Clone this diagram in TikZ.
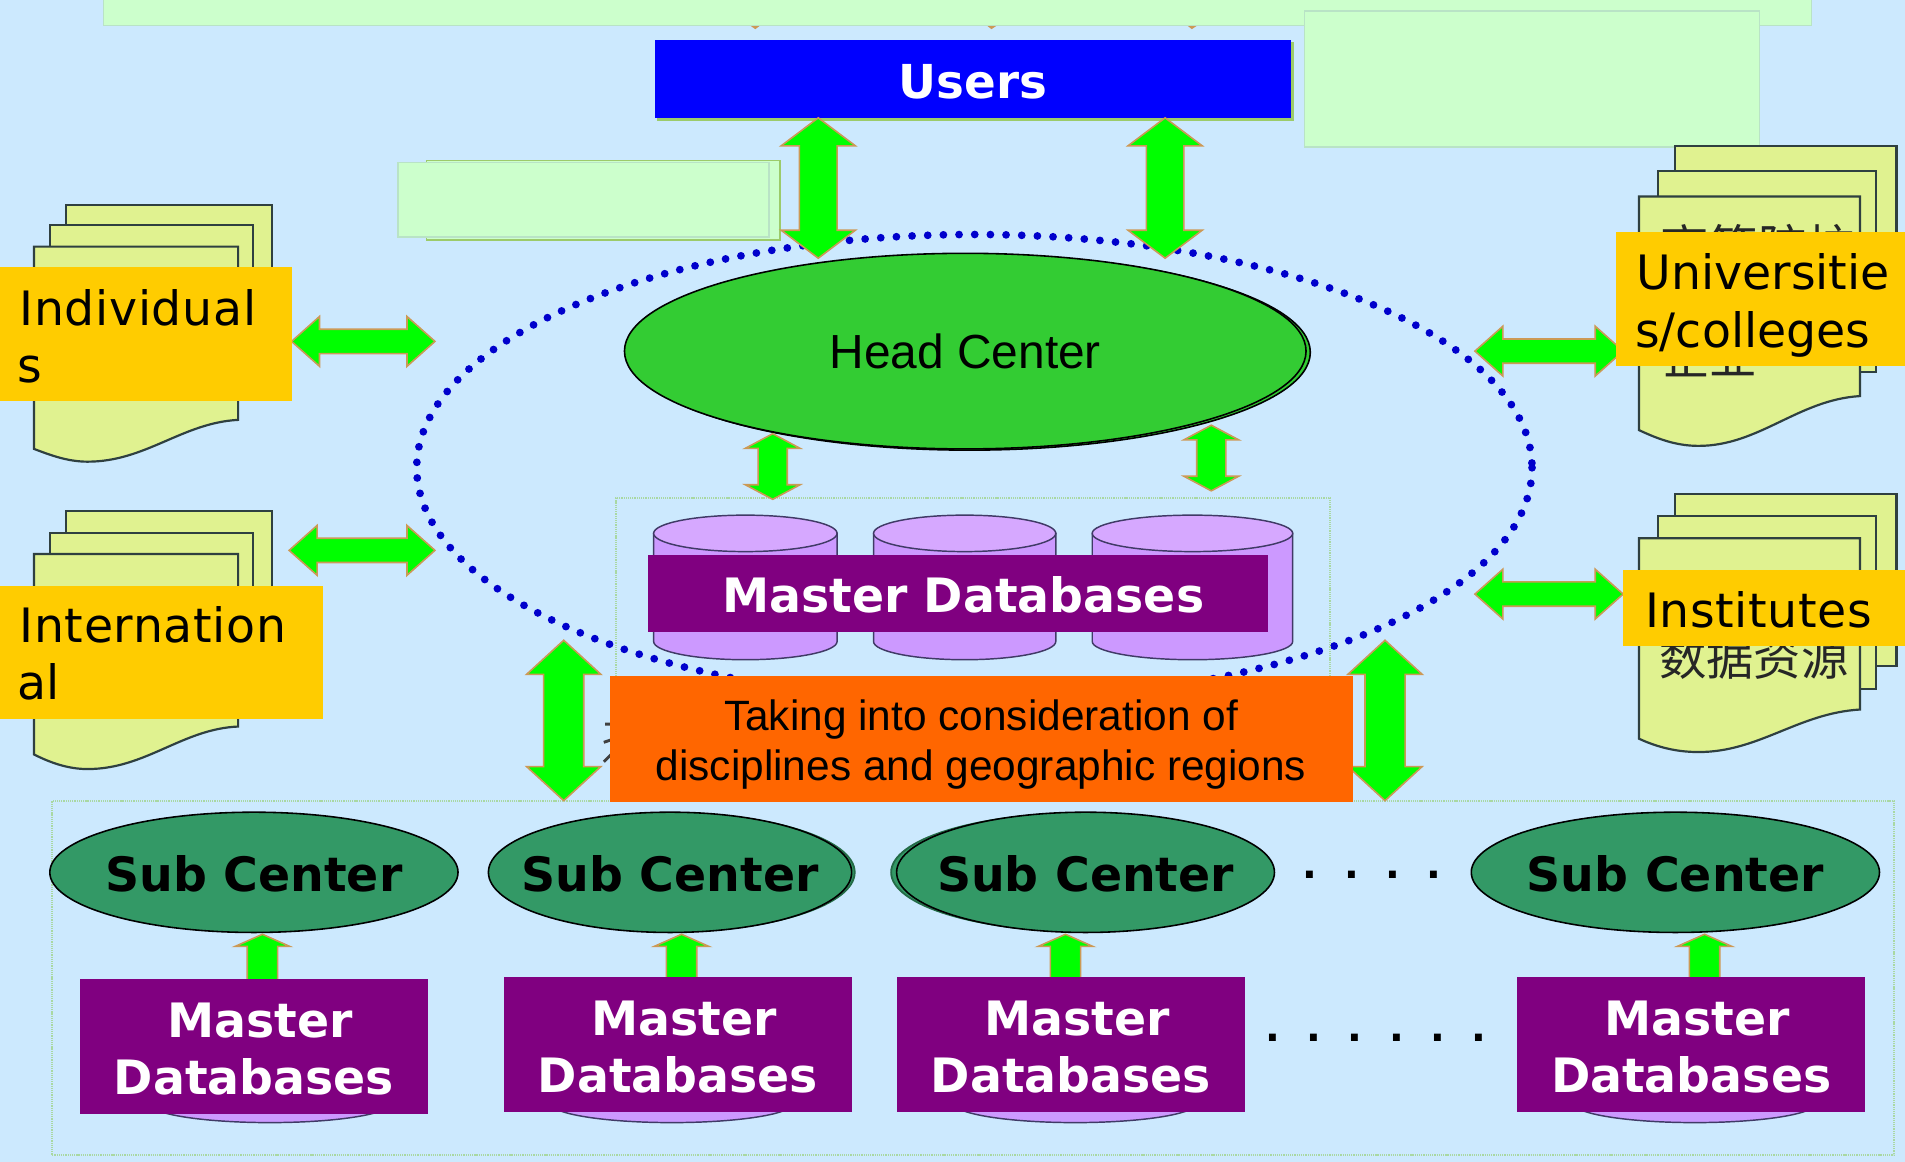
\documentclass[tikz,border=0pt]{standalone}
\usepackage{fontspec}
\usetikzlibrary{calc,shapes.geometric}
\setmainfont{Liberation Sans}
\newfontfamily\dvsans{DejaVu Sans}
\newfontfamily\dvspaced[LetterSpace=1.4]{DejaVu Sans}
\newfontfamily\cjkf{Noto Sans CJK SC}
\definecolor{bgblue}{HTML}{CCE9FE}
\definecolor{palegreen}{HTML}{CCFFCC}
\definecolor{paleedge}{HTML}{B9E3C6}
\definecolor{oliveedge}{HTML}{9CCB6A}
\definecolor{framegreen}{HTML}{A9D8A2}
\definecolor{sheetfill}{HTML}{E0F290}
\definecolor{sheetline}{HTML}{2F4040}
\definecolor{arrowgreen}{HTML}{00FF00}
\definecolor{arrowedge}{HTML}{CC9955}
\definecolor{headgreen}{HTML}{33CC33}
\definecolor{subgreen}{HTML}{339966}
\definecolor{boxyellow}{HTML}{FFCC00}
\definecolor{boxorange}{HTML}{FF6600}
\definecolor{boxpurple}{HTML}{800080}
\definecolor{cylfill}{HTML}{CC99FF}
\definecolor{cyltop}{HTML}{D6A8FF}
\definecolor{cylline}{HTML}{403A66}
\definecolor{dotblue}{HTML}{0000CC}
\tikzset{
  paleplate/.style={fill=palegreen,draw=paleedge,line width=1pt},
  shadeplate/.style={fill=palegreen,draw=oliveedge,line width=1.2pt},
  fineframe/.style={draw=framegreen,line width=1.6pt,dash pattern=on 1pt off 0.8pt},
  sheet/.style={fill=sheetfill,draw=sheetline,line width=1.8pt},
  blockarrow/.style={fill=arrowgreen,draw=arrowedge,line width=1.3pt,line join=miter},
  cyl/.style={fill=cylfill,draw=cylline,line width=1.2pt},
  cylcap/.style={fill=cyltop,draw=cylline,line width=1.2pt},
  ybox/.style={fill=boxyellow,inner sep=0pt,align=left,font=\dvspaced\fontsize{39}{47}\selectfont,anchor=center},
  pbox/.style={fill=boxpurple,text=white,inner sep=0pt,align=center,font=\dvsans\bfseries\fontsize{39}{47}\selectfont,minimum width=286.5pt,minimum height=111pt},
  subell/.style={ellipse,draw=black,line width=1.3pt,fill=subgreen,inner sep=0pt,minimum height=99pt,font=\dvsans\bfseries\fontsize{39}{47}\selectfont},
  subshadow/.style={ellipse,draw=subgreen!70!black,line width=1.5pt,fill=subgreen,inner sep=0pt,minimum height=97pt},
  darkhan/.style={inner sep=0pt,text=black!85,font=\cjkf\fontsize{39}{41}\selectfont},
  dotrow/.style={inner sep=0pt,anchor=base,font=\dvsans\bfseries\fontsize{32}{34}\selectfont},
}
% #1,#2 named ends, #3 head width, #4 shaft width, #5 head length
\newcommand\bidir[5]{%
  \draw[blockarrow] (#1)
   -- ($(#1)!#5pt!(#2)!#3/2*1pt!90:(#2)$)
   -- ($(#1)!#5pt!(#2)!#4/2*1pt!90:(#2)$)
   -- ($(#2)!#5pt!(#1)!#4/2*1pt!-90:(#1)$)
   -- ($(#2)!#5pt!(#1)!#3/2*1pt!-90:(#1)$)
   -- (#2)
   -- ($(#2)!#5pt!(#1)!#3/2*1pt!90:(#1)$)
   -- ($(#2)!#5pt!(#1)!#4/2*1pt!90:(#1)$)
   -- ($(#1)!#5pt!(#2)!#4/2*1pt!-90:(#2)$)
   -- ($(#1)!#5pt!(#2)!#3/2*1pt!-90:(#2)$)
   -- cycle;}
% #1 left x, #2 right x, #3 cap centre y, #4 lowest y
\newcommand\drum[4]{%
  \pgfmathsetmacro\drumrx{(#2-#1)/2}
  \pgfmathsetmacro\drumcx{(#2+#1)/2}
  \draw[cyl] (#1,#3) -- (#1,#4-15) arc[start angle=180,end angle=0,x radius=\drumrx,y radius=15] -- (#2,#3) -- cycle;
  \draw[cylcap] (\drumcx,#3) ellipse[x radius=\drumrx,y radius=15];}
\newcommand\smalldrum[1]{%
  \draw[cyl] (#1-100,819) -- (#1-100,908) arc[start angle=180,end angle=0,x radius=100,y radius=16] -- (#1+100,819) arc[start angle=0,end angle=180,x radius=100,y radius=16] -- cycle;}
\newcommand\dd{\makebox[34pt][c]{.}}
\newcommand\subtext{\makebox[0pt][c]{\rule{0pt}{31.6pt}Sub Center}}
\newcommand\mastertext{\rule{0pt}{32.4pt}\hspace*{10pt}Master\\Databases}
\begin{document}
\begin{tikzpicture}[x=1pt,y=-1pt]
\useasboundingbox (0,0) rectangle (1568,956.4);
\fill[bgblue] (0,0) rectangle (1568,956.4);

% tips peeking out below the top plate
\fill[arrowedge] (616,20) -- (627,20) -- (621.7,24) -- cycle;
\fill[arrowedge] (811,20) -- (822,20) -- (816,24) -- cycle;
\fill[arrowedge] (976,20) -- (987,20) -- (981,24) -- cycle;
\node[paleplate,minimum width=1406pt,minimum height=41pt,inner sep=0pt] (topplate) at (788,0.5) {};
\node[paleplate,minimum width=374pt,minimum height=112pt,inner sep=0pt] (rightplate) at (1261,65) {};
\node[shadeplate,minimum width=291pt,minimum height=65.6pt,inner sep=0pt] (leftplateback) at (496.5,164.8) {};
\node[paleplate,minimum width=305.4pt,minimum height=61.4pt,inner sep=0pt] (leftplate) at (480.3,164.3) {};

% dotted ring
\draw[dotblue,line width=6.4pt,line cap=round,dash pattern=on 0pt off 12.9pt] (802,385) ellipse[x radius=459,y radius=192];

% document stacks, left top
\draw[sheet] (54,168.4) rectangle (223.6,320);
\draw[sheet] (41,185) rectangle (208.5,320);
\draw[sheet] (28,203) -- (196,203) -- (196,345.6) .. controls (150,348) and (120,380) .. (72,380) .. controls (55,380) and (40,374) .. (28,369.5) -- cycle;
% left bottom
\draw[sheet] (54,420.5) rectangle (223.6,580);
\draw[sheet] (41,439) rectangle (208.5,580);
\draw[sheet] (28,456) -- (196,456) -- (196,598) .. controls (150,600) and (120,633) .. (72,633) .. controls (55,633) and (40,627) .. (28,621) -- cycle;
% right top
\draw[sheet] (1378.6,120) rectangle (1561,295);
\draw[sheet] (1365,140.7) rectangle (1544,306);
\draw[sheet] (1349,161.7) -- (1531,161.7) -- (1531,326) .. controls (1480,329) and (1448,367) .. (1398,367) .. controls (1378,367) and (1362,360) .. (1349,354) -- cycle;
\node[darkhan,font=\cjkf\fontsize{40}{42}\selectfont] (hanuniv) at (1447,203) {高等院校};
\node[darkhan] (hanent) at (1407,293) {企业};
% right bottom
\draw[sheet] (1378.6,406.6) rectangle (1561,548);
\draw[sheet] (1365,424.7) rectangle (1544,567);
\draw[sheet] (1349,443) -- (1531,443) -- (1531,584) .. controls (1480,587) and (1448,619) .. (1398,619) .. controls (1378,619) and (1362,614) .. (1349,608) -- cycle;
\node[darkhan] (hanres) at (1443.5,541) {数据资源};

% frames
\node[fineframe,minimum width=588pt,minimum height=147pt,inner sep=0pt] (mframe) at (801,483.5) {};
\node[fineframe,minimum width=1516pt,minimum height=292pt,inner sep=0pt] (subframe) at (801,805) {};

% master database drums
\drum{538}{689}{439}{543}
\drum{719}{869}{439}{543}
\drum{899}{1064}{439}{543}

% users
\node[fill=oliveedge,minimum width=524pt,minimum height=65pt,inner sep=0pt] (usersback) at (803,67) {};
\node[fill=blue,text=white,minimum width=524pt,minimum height=64pt,inner sep=0pt,font=\dvsans\bfseries\fontsize{38.5}{40}\selectfont] (users) at (801,65) {\rule{0pt}{32pt}Users};

% head centre
\node[ellipse,draw=black,line width=1.3pt,fill=headgreen,minimum width=561pt,minimum height=161pt,inner sep=0pt] (headshadow) at (798,290) {};
\node[ellipse,draw=black,line width=1.3pt,fill=headgreen,minimum width=561pt,minimum height=161pt,inner sep=0pt,font=\fontsize{39.4}{41}\selectfont] (head) at (794.5,289) {\makebox[0pt][c]{Head Center}};

% small drums behind the lower purple boxes
\smalldrum{222}
\smalldrum{553}
\smalldrum{885}
\smalldrum{1395}

% block arrows
\coordinate (a1) at (673.5,97); \coordinate (a1e) at (673.5,212.5);
\coordinate (a2) at (959,97); \coordinate (a2e) at (959,212.5);
\coordinate (a3) at (240,281); \coordinate (a3e) at (358,281);
\coordinate (a4) at (238,453); \coordinate (a4e) at (358,453);
\coordinate (a5) at (1214,289); \coordinate (a5e) at (1336,289);
\coordinate (a6) at (1214,489); \coordinate (a6e) at (1336,489);
\coordinate (a7) at (636,357); \coordinate (a7e) at (636,411);
\coordinate (a8) at (997,350); \coordinate (a8e) at (997,404);
\coordinate (a9) at (464,527); \coordinate (a9e) at (464,659);
\coordinate (a10) at (1140,527); \coordinate (a10e) at (1140,659);
\coordinate (u1) at (216,769); \coordinate (u1e) at (216,840);
\coordinate (u2) at (561,769); \coordinate (u2e) at (561,840);
\coordinate (u3) at (877,769); \coordinate (u3e) at (877,840);
\coordinate (u4) at (1403,769); \coordinate (u4e) at (1403,840);
\bidir{a1}{a1e}{61}{31}{23}
\bidir{a2}{a2e}{61}{31}{23}
\bidir{a3}{a3e}{41}{20}{23}
\bidir{a4}{a4e}{41}{20}{23}
\bidir{a5}{a5e}{41}{20}{23}
\bidir{a6}{a6e}{41}{20}{23}
\bidir{a7}{a7e}{45}{24}{12}
\bidir{a8}{a8e}{45}{24}{12}
\bidir{a9}{a9e}{61}{33}{28}
\bidir{a10}{a10e}{61}{33}{28}
\bidir{u1}{u1e}{45}{25}{10}
\bidir{u2}{u2e}{45}{25}{10}
\bidir{u3}{u3e}{45}{25}{10}
\bidir{u4}{u4e}{45}{25}{10}

% stray strokes left of the orange box
\draw[black!75,line width=2.4pt] (498,596) -- (503,596) (497,611) -- (503,609) (497,627) -- (503,621);

% labels
\node[ybox,text width=240pt,minimum height=110pt] (indiv) at (120,275) {\rule{0pt}{33.6pt}\hspace*{16pt}Individual\\\hspace*{14pt}s};
\node[ybox,text width=266pt,minimum height=110pt] (intl) at (133,537) {\rule{0pt}{31.6pt}\hspace*{16pt}Internation\\\hspace*{14pt}al};
\node[ybox,text width=238pt,minimum height=110pt,font=\dvsans\fontsize{39}{48}\selectfont] (univ) at (1449,246) {\rule{0pt}{40.6pt}\hspace*{17pt}Universitie\\\hspace*{16pt}s/colleges};
\node[ybox,text width=232pt,minimum height=63pt] (inst) at (1452,500.5) {\rule{0pt}{33pt}\hspace*{18pt}Institutes};
\node[fill=boxpurple,text=white,inner sep=0pt,minimum width=511pt,minimum height=63pt,text width=511pt,align=center,font=\dvsans\bfseries\fontsize{39}{42}\selectfont] (mdb) at (788.5,488.5) {\rule{0pt}{32.6pt}\hspace*{9pt}Master Databases};
\node[fill=boxorange,inner sep=0pt,minimum width=611.5pt,minimum height=103.5pt,align=center,font=\fontsize{34.9}{41}\selectfont] (orange) at (807.5,608.5) {\rule{0pt}{34.5pt}Taking into consideration of\\disciplines and geographic regions};

% sub centres
\node[subell,minimum width=336pt] (sub1) at (209,718) {\subtext};
\node[subshadow,minimum width=299pt] (sub2s) at (554,718) {};
\node[subell,minimum width=299pt] (sub2) at (551.5,718) {\subtext};
\node[subshadow,minimum width=311pt] (sub3s) at (889,718) {};
\node[subell,minimum width=311pt] (sub3) at (893.5,718) {\subtext};
\node[subell,minimum width=336pt] (sub4) at (1379,718) {\subtext};
\node[dotrow] (dots1) at (1129.5,723) {\dd\dd\dd\dd};
\node[dotrow] (dots2) at (1132.5,857) {\dd\dd\dd\dd\dd\dd};

% purple boxes
\node[pbox,text width=286.5pt] (db1) at (209,861.5) {\mastertext};
\node[pbox,text width=286.5pt] (db2) at (558,860) {\mastertext};
\node[pbox,text width=286.5pt] (db3) at (881.5,860) {\mastertext};
\node[pbox,text width=286.5pt] (db4) at (1392,860) {\mastertext};
\end{tikzpicture}
\end{document}
